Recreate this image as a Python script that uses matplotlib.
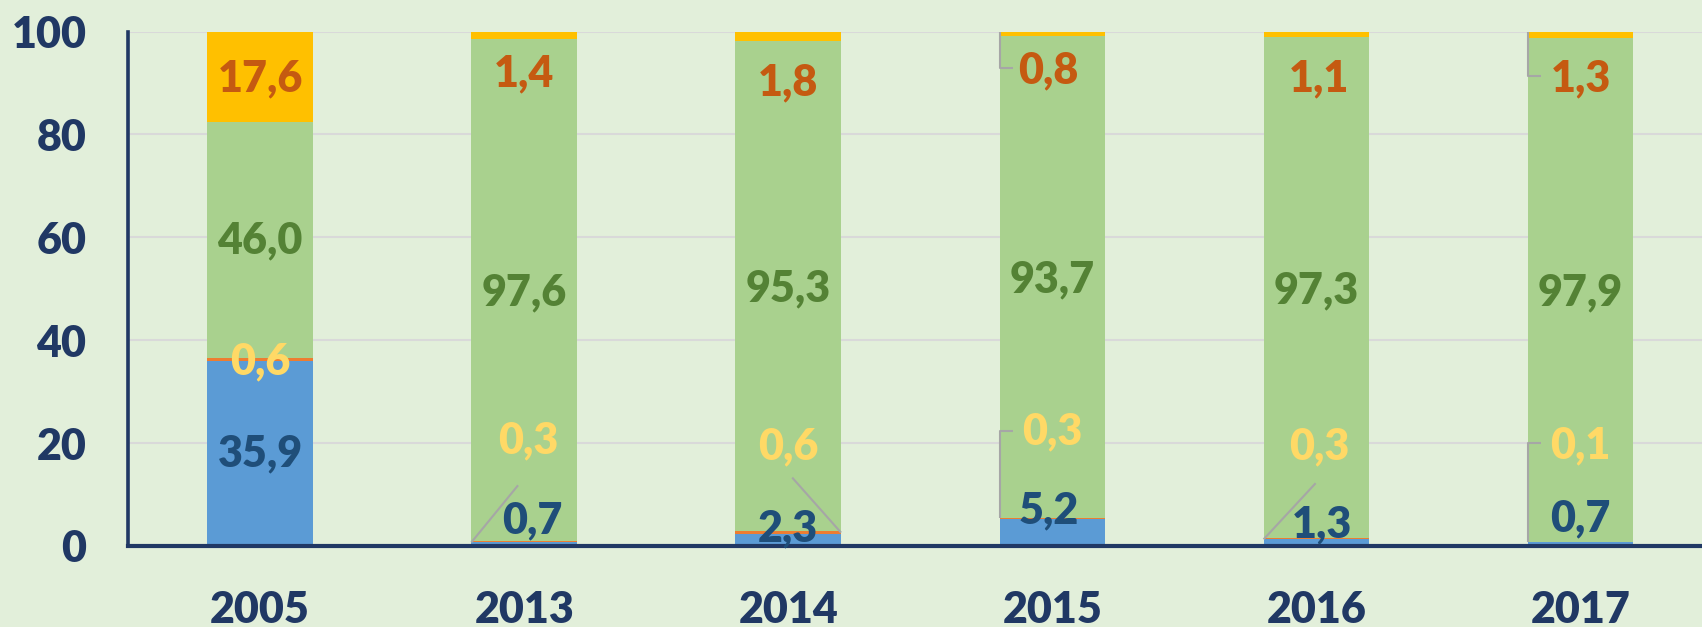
import matplotlib

matplotlib.use("Agg")
import matplotlib.pyplot as plt  # noqa: E402
import numpy as np  # noqa: E402

years = ["2005", "2013", "2014", "2015", "2016", "2017"]
blue = [35.9, 0.7, 2.3, 5.2, 1.3, 0.7]
orange = [0.6, 0.3, 0.6, 0.3, 0.3, 0.1]
green = [46.0, 97.6, 95.3, 93.7, 97.3, 97.9]
gold = [17.6, 1.4, 1.8, 0.8, 1.1, 1.3]
y_ticks = [0, 20, 40, 60, 80, 100]

series = [blue, orange, green, gold]
fills = ["#5B9BD5", "#ED7D31", "#A9D18E", "#FFC000"]
label_colors = ["#1F4E79", "#FFD966", "#548235", "#C55A11"]

# label placement: (dx, y) per series, per year
label_pos = [
    [(0, 17.9), (0.03, 4.9), (0, 3.4), (-0.015, 7.0), (0.02, 4.2), (0, 5.3)],
    [(0, 35.9), (0.015, 20.5), (0, 19.4), (0, 22.2), (0.01, 19.4), (0, 19.6)],
    [(0, 59.3), (0, 49.2), (0, 50.0), (0, 51.9), (0, 49.6), (0, 49.2)],
    [(0, 90.9), (0, 91.8), (0, 90.1), (-0.015, 92.4), (0.01, 90.9), (0, 90.9)],
]

# leader lines: (year idx, series idx, bar side, where on segment, label end (dx, y), elbow)
leaders = [
    (1, 1, -1, "bottom", (-0.023, 11.8), False),
    (2, 1, 1, "mid", (0.015, 13.3), False),
    (3, 3, -1, "top", (-0.15, 93.0), True),
    (3, 1, -1, "top", (-0.15, 22.4), True),
    (4, 1, -1, "bottom", (-0.003, 12.2), False),
    (5, 3, -1, "top", (-0.15, 91.3), True),
    (5, 1, -1, "bottom", (-0.15, 20.0), True),
]

BG = "#E2EFDA"
NAVY = "#203864"
FONT = "Lato"
WEIGHT = 800
FS = 31
BAR_W = 0.4

fig = plt.figure(figsize=(17.02, 6.27), dpi=100, facecolor=BG)
ax = fig.add_axes([128 / 1702, 1 - 546 / 627, 1 - 128 / 1702, (546 - 31.5) / 627])
ax.set_facecolor(BG)

x = np.arange(len(years))
bottoms = np.zeros(len(years))
seg_bottoms = []
for vals, col in zip(series, fills):
    ax.bar(x, vals, BAR_W, bottom=bottoms, color=col, zorder=2, linewidth=0)
    seg_bottoms.append(bottoms.copy())
    bottoms = bottoms + np.array(vals)

for s, vals in enumerate(series):
    for i, v in enumerate(vals):
        dx, y = label_pos[s][i]
        ax.text(i + dx, y, f"{v:.1f}".replace(".", ","), ha="center", va="center",
                fontsize=FS, fontweight=WEIGHT, family=FONT, color=label_colors[s], zorder=4)

for i, s, side, where, (ex, ey), elbow in leaders:
    lo = seg_bottoms[s][i]
    hi = min(lo + series[s][i], 100)
    ty = {"bottom": lo, "mid": (lo + hi) / 2, "top": hi}[where]
    tx = i + side * BAR_W / 2
    if elbow:
        xs, ys = [tx, tx, i + ex], [ty, ey, ey]
    else:
        xs, ys = [tx, i + ex], [ty, ey]
    ax.plot(xs, ys, color="#A6A6A6", lw=1.5, zorder=3, solid_capstyle="butt")

ax.set_xlim(-0.5, 5.46)
ax.set_ylim(0, 100)
ax.set_yticks(y_ticks)
ax.set_xticks(x)
ax.set_xticklabels(years)
ax.grid(axis="y", color="#D9D9D9", lw=1.5, zorder=1)
ax.set_axisbelow(True)
ax.tick_params(axis="both", length=0, labelsize=FS, labelcolor=NAVY)
ax.tick_params(axis="y", pad=30)
ax.tick_params(axis="x", pad=32)
for lab in ax.get_xticklabels() + ax.get_yticklabels():
    lab.set_fontweight(WEIGHT)
    lab.set_family(FONT)

for side in ("top", "right"):
    ax.spines[side].set_visible(False)
ax.spines["left"].set_color(NAVY)
ax.spines["left"].set_linewidth(2.6)
ax.spines["bottom"].set_color(NAVY)
ax.spines["bottom"].set_linewidth(3)

fig.savefig("out.png", dpi=100, facecolor=BG)
